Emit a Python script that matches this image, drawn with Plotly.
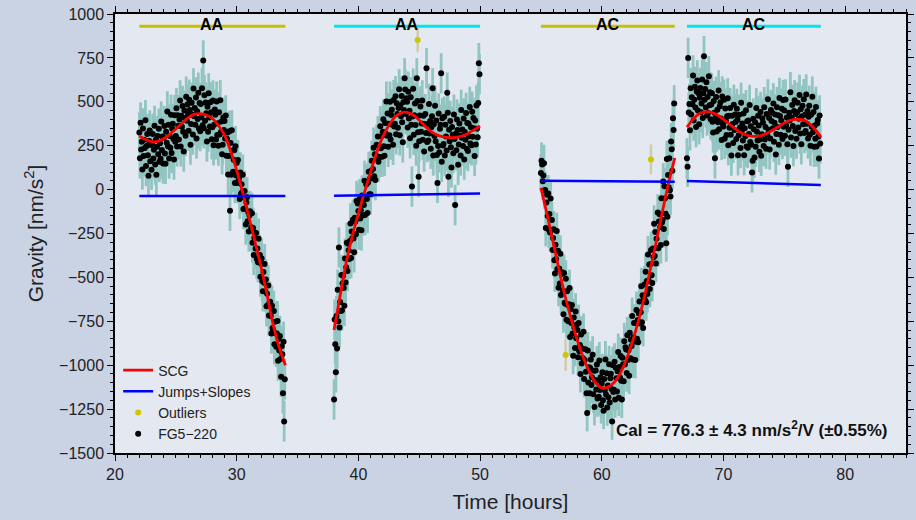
import numpy as np
import plotly.graph_objects as go

# ---------------------------------------------------------------------------
# FG5-220 absolute gravity sets [nm/s^2], one set every 3 minutes per session
# ---------------------------------------------------------------------------
SET_STEP_H = 0.05
session_start_h = [22.0, 38.0, 55.0, 67.0]
session_end_h = [34.0, 50.0, 66.0, 78.0]
session_label = ["AA", "AA", "AC", "AC"]
session_color = ["#c6c000", "#00e5ee", "#c6c000", "#00e5ee"]
session_sigma = [115, 115, 105, 115]

g_s1 = [
    325, 178, 381, 229, 272, 115, 348, 191, 284, 237, 395, 134, 248, 317, 195, 79, 278, 337, 161, 254,
    113, 263, 317, 177, 227, 363, 143, 284, 84, 244, 305, 201, 347, 158, 264, 176, 388, 225, 302, 149,
    295, 362, 205, 147, 330, 267, 445, 247, 370, 177, 305, 238, 426, 209, 347, 375, 288, 171, 424, 272,
    305, 463, 246, 424, 363, 286, 399, 508, 246, 420, 358, 476, 329, 217, 450, 408, 306, 529, 392, 485,
    428, 335, 512, 454, 256, 373, 495, 427, 314, 576, 418, 464, 370, 525, 291, 446, 402, 552, 348, 493,
    333, 488, 412, 577, 366, 735, 349, 538, 392, 496, 435, 274, 472, 330, 548, 411, 359, 497, 440, 287,
    355, 507, 253, 369, 456, 426, 286, 501, 311, 378, 250, 440, 314, 509, 328, 388, 202, 256, 410, 340,
    390, 291, 422, 193, 289, 325, 86, 192, 333, -120, 265, 84, 338, 222, 101, 170, 224, 38, 247, 81,
    152, 37, 168, 50, 68, -53, 98, -23, 30, -14, 85, -110, -44, -8, -106, -199, -73, -44, -180, -127,
    -239, -148, -123, -235, -215, -134, -302, -218, -372, -274, -246, -335, -247, -395, -335, -414, -280, -411, -373, -496,
    -422, -393, -521, -579, -469, -530, -424, -580, -512, -664, -593, -659, -546, -717, -640, -639, -720, -820, -662, -788,
    -802, -691, -880, -753, -818, -895, -820, -749, -974, -851, -916, -834, -964, -1066, -892, -938, -1160, -866, -1320, -1080,
]
g_s2 = [
    -1195, -740, -880, -1040, -720, -905, -570, -750, -330, -785, -640, -691, -487, -688, -534, -490, -561, -662, -393, -529,
    -442, -303, -464, -309, -346, -395, -292, -193, -390, -239, -276, -171, -278, -357, -160, -183, -254, -65, -164, -79,
    -122, -228, -54, -164, -118, -232, -34, -148, -62, -88, 50, -145, -40, 29, -54, -133, 40, 101, -26, 63,
    -26, 107, 164, 65, 118, 239, 76, 201, 54, 195, 256, 179, 303, 158, 250, 185, 361, 236, 304, 187,
    330, 401, 247, 193, 379, 320, 501, 307, 433, 244, 375, 310, 500, 285, 425, 455, 370, 255, 510, 360,
    375, 532, 315, 492, 430, 352, 464, 571, 309, 481, 418, 533, 383, 269, 499, 454, 634, 570, 430, 520,
    500, 353, 557, 405, 449, 292, 526, 369, 17, 416, 575, 312, 424, 491, 368, 250, 634, 504, 326, 73,
    275, 422, 473, 330, 376, 508, 284, 421, 217, 374, 430, 322, 691, 271, 373, 280, 487, 319, 391, 233,
    355, 418, 577, 194, 372, 305, 478, 276, 394, 197, 38, 249, 433, 212, 346, 370, 662, 158, 407, 251,
    260, 415, 194, 369, 303, 223, 552, 437, 73, 341, 276, 391, 241, 126, 357, 312, 207, 427, 288, -88,
    318, 224, 399, 340, 141, 257, 377, 308, 194, 454, 295, 342, 248, 405, 171, 328, 284, 436, 232, 379,
    220, 377, 304, 471, 263, 355, 252, 444, 301, 408, 350, 192, 394, 257, 479, 346, 298, 493, 720, 657,
]
g_s3 = [
    95, 164, 143, 47, 81, 150, -5, -2, -218, -74, -30, -151, -22, -228, -139, -245, -51, -232, -173, -344,
    -275, -226, -402, -478, -314, -395, -236, -452, -348, -559, -450, -535, -365, -600, -480, -470, -575, -710, -475, -645,
    -650, -508, -741, -579, -657, -750, -653, -561, -839, -682, -760, -657, -819, -946, -728, -785, -902, -694, -846, -768,
    -800, -955, -760, -920, -885, -1050, -825, -990, -905, -960, -810, -1078, -971, -909, -1037, -1160, -1272, -916, -1099, -1012,
    -1160, -1016, -967, -1113, -1069, -940, -1166, -1032, -1238, -1084, -1030, -1138, -996, -1189, -1087, -1180, -973, -1141, -1069, -1227,
    -1105, -1040, -1200, -1259, -1078, -1143, -967, -1167, -1046, -1241, -1115, -1183, -995, -1213, -1075, -1048, -1135, -1320, -1000, -1153,
    -1140, -980, -1195, -1015, -1075, -1150, -1035, -925, -1185, -1010, -1070, -947, -1089, -1196, -958, -995, -1092, -864, -996, -898,
    -910, -1045, -830, -970, -915, -1060, -815, -960, -855, -890, -720, -968, -841, -759, -867, -970, -758, -686, -849, -742,
    -870, -706, -637, -763, -699, -550, -756, -602, -788, -614, -540, -629, -468, -642, -521, -595, -369, -518, -427, -566,
    -425, -344, -488, -532, -336, -385, -194, -378, -242, -421, -280, -333, -131, -334, -182, -140, -213, -316, -49, -187,
    -172, 46, -225, 19, -49, -138, -306, 174, -155, 83, 14, 178, -4, -39, 274, 230, 107, 407, 339, 490,
]
g_s4 = [
    178, 130, 750, 439, 488, 338, 577, 427, 526, 486, 650, 393, 511, 585, 468, 356, 559, 622, 451, 549,
    372, 523, 579, 440, 491, 627, 408, 549, 760, 511, 573, 468, 612, 422, 527, 436, 646, 481, 555, 400,
    485, 548, 387, 325, 504, 437, 178, 409, 528, 331, 455, 383, 565, 343, 475, 498, 405, 283, 530, 373,
    360, 512, 289, 462, 394, 311, 418, 520, 253, 420, 352, 464, 312, 194, 421, 374, 266, 483, 340, 428,
    385, 288, 460, 398, 196, 309, 426, 354, 237, 494, 332, 376, 279, 433, 196, 350, 304, 452, 246, 389,
    238, 393, 317, 482, 271, 361, 255, 98, 165, 404, 343, 183, 383, 244, 464, 329, 279, 420, 365, 215,
    286, 442, 193, 315, 406, 382, 248, 469, 286, 357, 233, 430, 312, 514, 341, 408, 229, 291, 453, 390,
    437, 349, 491, 273, 380, 427, 200, 317, 469, 356, 423, 255, 522, 419, 312, 394, 461, 288, 510, 358,
    450, 307, 513, 365, 411, 258, 130, 341, 437, 394, 555, 296, 411, 482, 362, 248, 448, 509, 334, 430,
    290, 440, 495, 354, 404, 539, 319, 458, 258, 418, 478, 372, 515, 323, 426, 334, 542, 375, 448, 291,
    415, 477, 313, 250, 426, 358, 529, 326, 442, 244, 365, 290, 471, 246, 376, 397, 302, 177, 422, 263,
]
fg5_sessions = [g_s1, g_s2, g_s3, g_s4]

# Superconducting gravimeter signal scaled with the fitted calibration (0.5 h samples)
SCG_STEP_H = 0.5
scg_s1 = [305, 285, 273, 275, 290, 315, 345, 378, 408, 428, 433, 425, 405, 365, 310,
          220, 110, -20, -155, -295, -440, -600, -770, -900, -1000]
scg_s2 = [-800, -605, -415, -265, -135, -15, 100, 210, 300, 365, 413, 437, 440, 425, 395,
          360, 330, 310, 300, 296, 298, 305, 320, 340, 362]
scg_s3 = [10, -140, -300, -460, -610, -740, -860, -960, -1040, -1100, -1130, -1125,
          -1100, -1050, -970, -870, -750, -610, -450, -290, -120, 40, 180]
scg_s4 = [355, 400, 432, 443, 440, 425, 400, 372, 345, 322, 308, 303, 306, 318, 337,
          358, 380, 395, 400, 398, 380, 345, 298]
scg_sessions = [scg_s1, scg_s2, scg_s3, scg_s4]

# Fitted offsets and drift per session
js_g_start = [-37, -35, 51, 49]
js_g_end = [-37, -22, 44, 26]

# Rejected sets
outlier_t = [44.87, 57.03, 64.04]
outlier_g = [852, -942, 172]
outlier_sigma = [70, 90, 85]

label_g = 930
cal_text = "Cal = 776.3 ± 4.3 nm/s<sup>2</sup>/V (±0.55%)"

FONT = "Liberation Sans, Arial, Helvetica, sans-serif"
TEAL = "rgb(146,197,193)"

fig = go.Figure()

# FG5 sets with their uncertainties (drawn first, lowest layer)
fx, fy, fe = [], [], []
for t0, g, s in zip(session_start_h, fg5_sessions, session_sigma):
    t = t0 + SET_STEP_H * np.arange(len(g))
    fx.extend(t.tolist())
    fy.extend(g)
    fe.extend([s] * len(g))
fig.add_trace(go.Scatter(
    x=fx, y=fy, mode="markers", name="FG5\u2212220", legendrank=4,
    marker=dict(color="black", size=6, line=dict(width=0)),
    error_y=dict(type="data", array=fe, visible=True, color=TEAL, thickness=2.8, width=0),
))

# SCG curve
sx, sy = [], []
for t0, g in zip(session_start_h, scg_sessions):
    t = t0 + SCG_STEP_H * np.arange(len(g))
    sx.extend(t.tolist() + [None])
    sy.extend(list(g) + [None])
fig.add_trace(go.Scatter(
    x=sx, y=sy, mode="lines", name="SCG", legendrank=1,
    line=dict(color="#ff0000", width=2.8, shape="spline"),
))

# Jumps + slopes
jx, jy = [], []
for t0, t1, g0, g1 in zip(session_start_h, session_end_h, js_g_start, js_g_end):
    jx.extend([t0, t1, None])
    jy.extend([g0, g1, None])
fig.add_trace(go.Scatter(
    x=jx, y=jy, mode="lines", name="Jumps+Slopes", legendrank=2,
    line=dict(color="#0000ff", width=2.5),
))

# Outliers
fig.add_trace(go.Scatter(
    x=outlier_t, y=outlier_g, mode="markers", name="Outliers", legendrank=3,
    marker=dict(color="#cdc600", size=6, line=dict(width=0)),
    error_y=dict(type="data", array=outlier_sigma, visible=True,
                 color="rgba(190,180,110,0.55)", thickness=2.4, width=0),
))

# Session bars and labels along the top
for t0, t1, lab, col in zip(session_start_h, session_end_h, session_label, session_color):
    fig.add_trace(go.Scatter(
        x=[t0, t1], y=[label_g, label_g], mode="lines", showlegend=False,
        line=dict(color=col, width=3), hoverinfo="skip",
    ))
    fig.add_annotation(
        x=(t0 + t1) / 2, y=label_g + 10, text=f"<b>{lab}</b>", showarrow=False,
        xanchor="center", yanchor="middle", font=dict(size=16, color="black", family=FONT),
    )

fig.add_annotation(
    xref="paper", yref="paper", x=0.979, y=0.054, xanchor="right", yanchor="middle",
    text=f"<b>{cal_text}</b>", showarrow=False, font=dict(size=17, color="#111", family=FONT),
)

axis_common = dict(
    showline=True, linecolor="black", linewidth=1.5, mirror="ticks",
    ticks="outside", ticklen=6, tickwidth=1.2, tickcolor="black",
    showgrid=False, zeroline=False, tickfont=dict(size=16, color="#222"),
    automargin=False,
)
fig.update_xaxes(
    range=[20, 85], tick0=0, dtick=10,
    minor=dict(ticks="outside", dtick=1, ticklen=3, tickwidth=1, tickcolor="black", showgrid=False),
    title=dict(text="Time [hours]", font=dict(size=21, color="#222"), standoff=12),
    **axis_common,
)
fig.update_yaxes(
    range=[-1500, 1000], tick0=0, dtick=250,
    minor=dict(ticks="outside", dtick=50, ticklen=3, tickwidth=1, tickcolor="black", showgrid=False),
    title=dict(text="Gravity [nm/s<sup>2</sup>]", font=dict(size=21, color="#222"), standoff=10),
    **axis_common,
)

fig.update_layout(
    width=916, height=520,
    margin=dict(l=115, r=10, t=14, b=67),
    paper_bgcolor="#c9d3e3", plot_bgcolor="#e4e8f0",
    font=dict(family=FONT, size=16, color="#222"),
    showlegend=True,
    legend=dict(x=0.004, y=0.008, xanchor="left", yanchor="bottom",
                bgcolor="rgba(0,0,0,0)", font=dict(size=14, color="#222"),
                itemwidth=30, tracegroupgap=0),
)

fig.write_html("out.html")
